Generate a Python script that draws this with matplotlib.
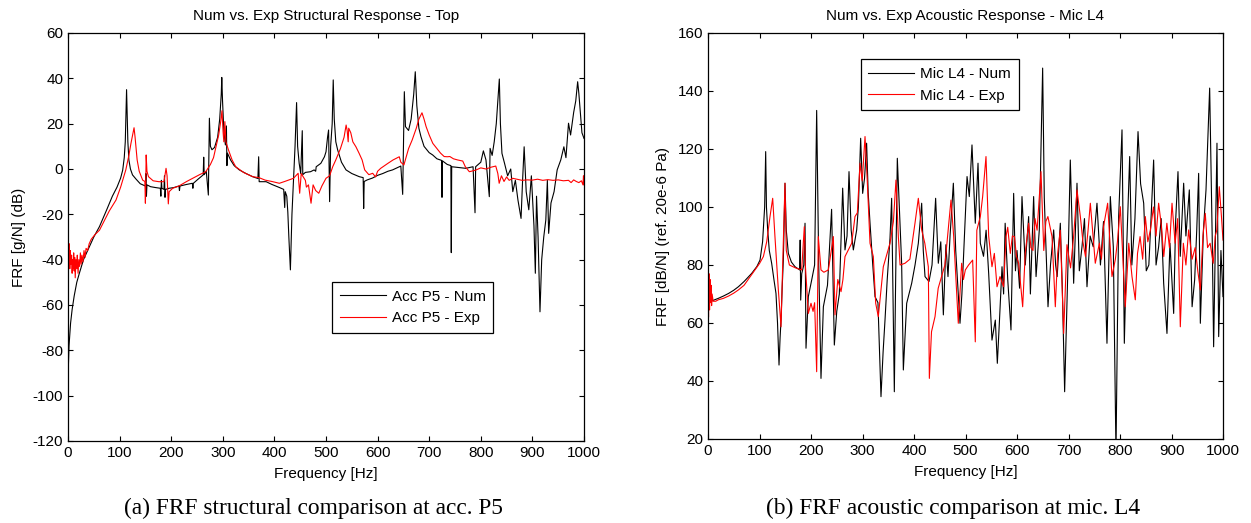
import matplotlib
matplotlib.use("Agg")
import matplotlib.pyplot as plt

plt.rcParams['font.family'] = ['Liberation Sans', 'DejaVu Sans']
plt.rcParams['axes.unicode_minus'] = False

# ---------------- (a) structural response, accelerometer P5 ----------------
num_a_f = [0, 2, 5, 8, 12, 17, 22, 30, 40, 50, 61, 75, 86, 95, 102, 106, 109, 111, 112.5, 113.5,
           114.5, 116, 118, 121, 125, 132, 140, 145, 150, 151, 152, 153, 160, 170, 179, 180, 181, 182,
           186, 187, 188, 189, 196, 205, 215, 216, 217, 230, 241, 242, 243, 252, 262, 263, 264, 268,
           272, 274, 276, 279, 284, 290, 294, 297, 298, 299.5, 302, 305, 307, 308, 309, 315, 322, 332,
           345, 358, 368, 369.5, 370.5, 384, 395, 410, 418, 420, 421, 424, 426, 428, 431, 434, 437,
           440, 443, 445, 448, 451, 454, 455, 460, 470, 477, 480, 481, 490, 497, 500, 503, 505, 507,
           509, 512, 514, 516, 519, 522.6, 530, 538.8, 550, 564.6, 572, 573, 574, 580, 590, 600, 610,
           620, 629, 640, 645, 648.6, 651.8, 654, 660, 665, 670, 673, 676, 680, 684, 690, 700, 706.7,
           715, 724, 724.8, 725.6, 735, 742, 742.8, 743.6, 755, 771, 785, 788.8, 790, 800, 805, 810,
           816.5, 818, 822, 826, 830, 833, 835.9, 838, 841, 846, 852, 858, 862, 867, 872, 878, 881,
           884, 888, 893, 898, 903, 905.7, 908, 911, 914.7, 918, 922, 926, 929, 931.5, 936, 942, 948,
           955, 961, 965, 970, 974, 980, 984, 987.7, 990, 993, 996, 1000]
num_a_db = [-92, -78, -68, -62, -56, -50, -46, -40, -35, -30, -25.4, -18, -12, -8, -4, -0.5, 5, 12, 25, 35,
            25, 12, 4, 0, -2.6, -4.5, -6.5, -7, -7.5, -2, -12, -7, -7.8, -8.2, -8.5, -12, -5, -8.5,
            -9, -3, -12.5, -9, -8.5, -8.2, -7.5, -9.5, -7.5, -6.8, -6.3, -8.5, -6.3, -4.5, -2.6, 5.2, -2.5, -1,
            -11.5, 22.4, 10, 8.5, 9.5, 14, 22, 33, 40.4, 30, 17, 10.6, 19, 1.5, 7, 4, 1.5, -0.4,
            -2, -3.4, -4.2, 5.4, -5.6, -5.6, -6.8, -8.2, -9, -17, -10, -12, -19, -30, -44.5, -20, -5,
            10, 29.3, 10, 2.5, -2, 16.9, -2.5, -1.5, -1.2, -0.4, -1, 1, 2.5, 5.4, 7.6, 14, 17.2, -14.4,
            10, 20, 39.3, 22, 12, 8.4, 3, -0.4, -2, -3.4, -3.8, -17.4, -5.5, -4.8, -4, -2.8, -2,
            -1, -0.4, 0.8, 1.3, -11.2, 34.1, 18.7, 17, 22, 33, 42.9, 28, 18, 14.3, 10, 7.2, 6.2,
            4.5, 3.8, -12.5, 3.6, 2, 1.5, -36.9, 1, 0.7, 0.3, 1, -19.3, 1, 3, 8, 4,
            -12.2, 9.1, 6, 12, 20, 30, 39.7, 20, 6.9, 2.5, -3, 0, -10, -5, -13.7, -21.8, -5,
            9.8, -10, -18, -3, -25, -46, -12, -30, -63, -40, -30, -22.5, -5, -28.4, -15, -10, -0.4,
            4, 9.8, 5, 20.2, 15, 25, 30, 38.5, 33.4, 25, 16, 13.5]

exp_a_f = [0, 0.5, 1.5, 2.5, 3.5, 4.5, 5.5, 7, 8, 9, 10, 11, 12, 13, 14, 15.5, 17, 18, 19.5, 21, 22.5,
           24, 25.5, 27, 29, 31, 33, 35, 38, 41, 45, 52, 61, 70, 80, 93, 102, 112, 118, 122, 126, 128,
           130, 134, 138, 144.7, 149, 150, 151.5, 153, 156, 165, 176, 186, 190, 192, 194.4, 196,
           202.9, 215, 230, 241.6, 255, 267, 276, 282, 286.8, 292, 296, 298.4, 300.5, 302, 304, 306,
           311, 318, 325, 340, 358, 370, 382, 395, 409.6, 420, 437, 446, 449, 452, 456, 460, 462, 466,
           471, 475, 480, 486, 492, 500, 507, 513, 519, 528, 535, 539, 541, 543, 544, 548, 552, 558,
           564, 570, 575, 583, 590.5, 596, 600, 606, 620, 630, 642, 645, 651, 655, 660, 667, 675, 680,
           686, 690, 694, 700, 707, 715, 722, 729, 735, 740, 747, 755, 765, 770, 777.8, 790, 800, 810,
           820, 829, 833, 835.6, 840, 845, 850, 855, 861.8, 870, 880, 890, 900, 910, 920, 930, 940,
           950, 960, 970, 975, 980, 985, 990, 995, 998, 999, 1000]
exp_a_db = [-13, -30, -38, -33, -44, -36, -42, -38, -46, -40, -44, -37, -45, -39, -48, -40, -44, -38, -46, -40, -43,
            -37, -42, -38, -41, -36, -39, -35, -36, -33, -31, -29, -27, -23, -18.5, -13.7, -8, -0.4, 6, 11.3, 16, 18.2,
            14, 4, -1, -4.9, -5.5, -15.1, 6.2, -1, -3.4, -5.2, -5.6, -5.6, 0.3, -3, -15.4, -10,
            -8.5, -7.5, -5.5, -4.1, -2.5, -1.2, 2, 5, 9.8, 15, 21, 25.7, 16.5, 12, 20.9, 12,
            8.4, 4, 1, -1.5, -3.4, -3.8, -4.9, -5.5, -6.3, -5.5, -4.1, -1.9, -10.7, -2, -3.5, -5, -8, -7,
            -15.1, -7, -9.5, -10.7, -7.5, -4.1, -3, 1, 4, 9, 14, 19.4, 17, 12, 18, 16, 12, 9.8,
            7, 4, -0.4, -2.5, -1.9, -3.5, -1, 0.3, 2.5, 4, 5.4, 3, 1.8, 5, 9, 12.8, 18, 22,
            24.8, 22, 18.7, 15, 11.3, 9, 7, 5.5, 5.4, 5.5, 4.5, 4, 3.5, 1, -1.2, -0.5, 0.5, 0,
            0.8, 1.3, -2, -6.3, -3, -5.5, -3.5, -5, -4.1, -4.5, -5, -4.8, -4.9, -4.5, -5, -4.7, -5,
            -4.8, -5.2, -5, -6, -4.8, -5.5, -6, -5.2, -7, -3, -7]

# ---------------- (b) acoustic response, microphone L4 ----------------
num_b_f = [0, 10, 20, 30, 40, 50, 59, 70, 84.8, 95, 101, 106, 110, 112, 113.5, 115.9, 119, 123.6, 128,
           132, 135, 137.9, 140, 141.8, 144, 146.3, 149.5, 152, 156, 162, 169, 178, 179, 180, 182, 186,
           188.4, 190.3, 194.8, 201.3, 207, 211, 215, 219.4, 224, 232, 240, 245.3, 250, 255, 261.5,
           266, 270, 273.8, 278, 282.2, 288.7, 292, 296.4, 300.3, 304, 308, 311, 314.6, 319.7, 324.3,
           330, 335.9, 340, 343.7, 348, 353.4, 356.6, 361.8, 364, 367.6, 370.9, 376, 379.3, 385.8,
           395.5, 402, 408.4, 414.9, 418, 421.4, 429.1, 435, 442, 447.2, 452, 457, 462, 466, 470,
           476.4, 481, 489.3, 493, 498, 503, 507.4, 512.6, 519, 524.3, 528.8, 535, 540, 545, 551.4,
           557.9, 561.8, 566, 570.9, 574, 577, 582, 588.3, 593.5, 597, 600, 605, 609.7, 616, 622.6,
           626, 632.3, 637, 643.3, 649.8, 653, 660.2, 665, 671.2, 675, 678, 684.1, 688, 692.5, 699,
           703.5, 710, 716.5, 721, 726.2, 731, 735.9, 742, 748, 755.3, 762, 768, 774.7, 781.2, 787,
           792.2, 797.4, 803.9, 808.4, 813, 818.8, 823, 829, 835, 840, 846, 851, 856, 860, 865.3, 870,
           875, 880, 884.8, 891.2, 897, 904.2, 908, 912.6, 917, 923.6, 928, 934.6, 940, 945, 949,
           952.7, 956, 962, 967, 974.1, 979, 981.8, 988.3, 991.6, 996, 1000]
num_b_db = [67, 67.8, 68.5, 69.3, 70.2, 71.3, 72.5, 74.3, 77.1, 79.5, 81.7, 88, 100, 119.1, 100, 92.1, 85, 80.6, 75,
            70.2, 60, 45.5, 55, 61, 72, 81.7, 108.2, 92, 84, 81, 79.4, 78.3, 88.6, 67.9, 77, 80,
            94.4, 51.3, 69.1, 74.8, 80, 133.3, 80, 40.9, 65.6, 73, 99.2, 52.4, 64, 70, 106.5,
            85.2, 90, 112.2, 92, 85.2, 92.1, 100, 123.7, 104.7, 110, 122, 105, 94.4, 80.6, 69.1,
            67, 34.6, 50, 61, 75, 89.2, 103, 36.3, 70, 116.8, 102.4, 80.6, 43.8, 66.8,
            73.7, 80, 87.5, 101.3, 85, 76, 74.3, 80, 103, 80.6, 88, 62.8, 87, 76, 90,
            108.2, 85, 59.9, 70, 90, 110.5, 103.6, 121.4, 94.4, 115.1, 87.5, 83, 92, 77.1, 54.1,
            61, 46.1, 61, 79.4, 70, 94.4, 75, 57.6, 104.7, 78, 85, 72, 103.6, 80, 96.7,
            70, 103.6, 76, 92.1, 147.9, 103, 65.6, 80, 92.1, 80, 76, 94.4, 72, 36.3, 80,
            116.2, 73.7, 108.2, 78, 86.3, 96, 72.5, 90, 86.3, 101.3, 80, 95, 53, 103.6, 86.3,
            15, 96.7, 126.6, 53, 86.3, 117.4, 80, 96, 126, 108, 101.3, 78, 80, 95, 116.2, 80,
            86.3, 96, 73.7, 56.4, 87.5, 63.3, 95, 112.2, 83, 108.2, 90, 105.9, 65.6, 75, 92,
            111.6, 59.9, 92.1, 105.9, 141, 90, 51.8, 122, 55.3, 85, 69.1]

exp_b_f = [0, 1, 2, 3, 4, 5, 6, 7, 8, 10, 15, 20, 30, 40, 50, 59, 70, 80, 91, 100, 107.5, 114, 120.4,
           125.6, 130, 136.6, 141.8, 145, 149.5, 152, 158, 170, 181.9, 187, 189, 194.8, 200, 204, 207,
           211, 214.2, 219.4, 225, 233.7, 243.4, 246.6, 252, 258.3, 262, 266, 279, 285.4, 290, 295.2,
           299.5, 304.9, 309, 314.6, 321, 325.6, 330.7, 340.4, 353.4, 360, 365, 369.6, 373, 382.5,
           392, 401.9, 408.4, 415, 421, 427.8, 429.8, 434, 440.8, 447, 460, 471.8, 477, 486, 492.5,
           496, 499.7, 506, 513.9, 519, 522, 528.8, 533.3, 539.8, 545, 551.4, 556, 561.2, 567, 574,
           578.6, 582, 587, 591, 595, 599, 603.2, 611, 616, 622.6, 627, 631, 635, 639, 646.6, 652,
           656, 660, 668, 674.4, 679, 684, 690.6, 697, 704, 710, 716.5, 723, 728, 733, 738, 742.4,
           752, 760, 764, 768, 776, 784.4, 791, 795, 800.6, 810.3, 817, 823.3, 829.7, 834, 839, 844,
           849.2, 854, 859, 865, 870, 875, 880, 885, 891, 896, 901, 907, 912, 917.1, 923, 928, 933.3,
           940, 946, 951, 956, 961, 965.6, 970, 975, 981, 985, 988, 992.8, 997, 1000]
exp_b_db = [83, 62, 77, 64.5, 75, 67, 73, 66, 70, 67.5, 67.5, 68, 68.5, 69.3, 70.3, 71.4, 73, 75.5, 78.3, 80.5, 82.9, 88, 96.7,
            103, 89.8, 71.4, 58.7, 80, 108.2, 85, 80, 79, 78.3, 93.2, 80, 63.3, 66.8, 64, 67,
            43.2, 89.8, 78.3, 77.5, 78.3, 89.8, 62.8, 75, 70.8, 75, 82.9, 87.5, 96.7, 98, 115.1,
            109, 124.3, 110, 87.5, 82.9, 66.8, 62.2, 79.4, 87.5, 95, 109.3, 89.8, 80, 80.6,
            82, 94.4, 103, 92, 87.5, 79.4, 40.9, 57, 62.2, 72, 80, 102.4, 90, 59.9, 80.6,
            75, 78.3, 80, 81.7, 53.5, 92, 96.7, 103.6, 117.4, 90, 79.4, 84, 72.5, 76, 72.5,
            89.8, 93, 84, 90, 89.8, 83, 80.6, 65.6, 84, 94.4, 86, 85, 96, 92, 112.2, 85,
            95, 96.7, 89.8, 65.6, 84, 92, 56.4, 87, 79, 90, 105.9, 96.7, 88, 82.9, 92, 101.3,
            80.6, 87.5, 82, 93.2, 101.3, 76, 82, 88, 100.1, 65.6, 87.5, 76, 68, 84, 89.8, 82,
            96.7, 88, 92, 100, 90, 101.3, 94, 82.9, 94.4, 86, 101.3, 87.5, 96, 58.7, 87.5, 80, 92.1,
            82, 86, 78, 71.4, 90, 97.8, 86, 87.5, 80.6, 90, 92.1, 107, 96.7, 88.6]

x_ticks = list(range(0, 1001, 100))
y_ticks_a = list(range(-120, 61, 20))
y_ticks_b = list(range(20, 161, 20))

W, H = 1251, 523
fig = plt.figure(figsize=(W / 100, H / 100), dpi=100)
ax1 = fig.add_axes([68 / W, 1 - 441 / H, 516 / W, 408 / H])
ax2 = fig.add_axes([708 / W, 1 - 439 / H, 515 / W, 406 / H])

lw = 0.8
ax1.plot(num_a_f, num_a_db, color='black', lw=lw, label='Acc P5 - Num')
ax1.plot(exp_a_f, exp_a_db, color='#ff0000', lw=lw, label='Acc P5 - Exp')
ax2.plot(num_b_f, num_b_db, color='black', lw=lw, label='Mic L4 - Num')
ax2.plot(exp_b_f, exp_b_db, color='#ff0000', lw=lw, label='Mic L4 - Exp')

ax1.set_xlim(0, 1000)
ax1.set_ylim(-120, 60)
ax1.set_yticks(y_ticks_a)
ax2.set_xlim(0, 1000)
ax2.set_ylim(20, 160)
ax2.set_yticks(y_ticks_b)

fs = 11
for ax in (ax1, ax2):
    ax.set_xticks(x_ticks)
    ax.tick_params(direction='in', top=True, right=True, length=3.6, width=0.8,
                   labelsize=fs, pad=3.5, colors='black')
    for s in ax.spines.values():
        s.set_linewidth(0.9)
    ax.set_xlabel('Frequency [Hz]', fontsize=fs, labelpad=5)

ax1.set_title('Num vs. Exp Structural Response - Top', fontsize=fs, pad=9.5)
ax2.set_title('Num vs. Exp Acoustic Response - Mic L4', fontsize=fs, pad=9.5)
ax1.set_ylabel('FRF [g/N] (dB)', fontsize=fs, labelpad=4.5)
ax2.set_ylabel('FRF [dB/N] (ref. 20e-6 Pa)', fontsize=fs, labelpad=5.5)

leg_kw = dict(fontsize=fs, fancybox=False, edgecolor='black', framealpha=1, borderaxespad=0,
              handlelength=3.0, handletextpad=0.4, borderpad=0.5, labelspacing=0.5)
l1 = ax1.legend(loc='upper left', bbox_to_anchor=(0.512, 0.39), **leg_kw)
l2 = ax2.legend(loc='upper left', bbox_to_anchor=(0.2965, 0.935), **leg_kw)
for l in (l1, l2):
    l.get_frame().set_linewidth(0.9)

fig.text(313 / W, 1 - 508 / H, '(a) FRF structural comparison at acc. P5', ha='center', va='center',
         family='Liberation Serif', fontsize=16.8)
fig.text(953 / W, 1 - 508 / H, '(b) FRF acoustic comparison at mic. L4', ha='center', va='center',
         family='Liberation Serif', fontsize=16.8)

fig.savefig('out.png', dpi=100)
